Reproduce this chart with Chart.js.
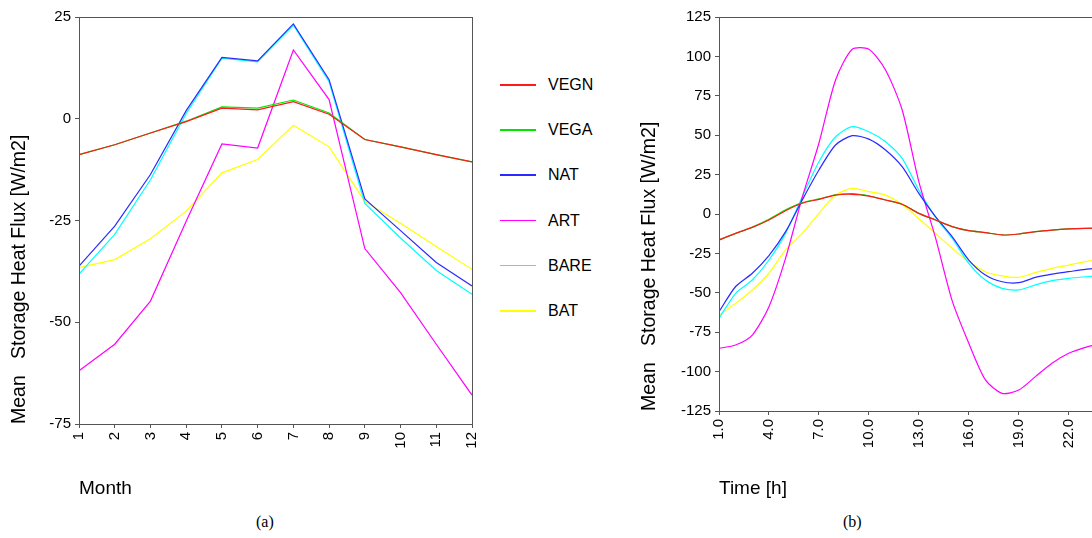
<!DOCTYPE html>
<html>
<head>
<meta charset="utf-8">
<script src="https://cdn.jsdelivr.net/npm/chart.js@4"></script>
<style>
    html, body { margin: 0; padding: 0; background: #fff; overflow: hidden; width: 1092px; height: 538px; }
    canvas { position: absolute; top: 0; }
    #chartA { left: 0; }
    #chartB { left: 630px; }
    .caption { position: absolute; top: 513px; font: 16px "Liberation Serif", "Times New Roman", serif; color: #000; }
    .legend-item { position: absolute; left: 500px; height: 20px; }
    .legend-item .swatch { position: absolute; left: 0; top: 9px; width: 36px; height: 1.5px; }
    .legend-item .text { position: absolute; left: 48px; top: 0; font: 16px "Liberation Sans", Arial, sans-serif; color: #000; line-height: 20px; }
</style>
</head>
<body>
<canvas id="chartA" width="494" height="510"></canvas>
<canvas id="chartB" width="480" height="510"></canvas>
<div id="legend"></div>
<div class="caption" style="left:256px">(a)</div>
<div class="caption" style="left:843px">(b)</div>
<script>
// series names and colours
const seriesNames = ['VEGN', 'VEGA', 'NAT', 'ART', 'BARE', 'BAT'];
const seriesColors = ['#ff1a1a', '#00e600', '#2a2aff', '#ff00ff', '#00ffff', '#ffff00'];

// (a) monthly means
const months = [1, 2, 3, 4, 5, 6, 7, 8, 9, 10, 11, 12];
const monthVEGN = [-8.8, -6.4, -3.5, -0.7, 2.6, 2.2, 4.2, 1.1, -5.1, -6.9, -8.8, -10.6];
const monthVEGA = [-8.8, -6.4, -3.5, -0.6, 2.9, 2.6, 4.6, 1.4, -5.1, -6.9, -8.8, -10.6];
const monthNAT = [-36.2, -26.4, -13.7, 2.0, 15.1, 14.2, 23.3, 9.6, -19.7, -27.5, -35.3, -41.1];
const monthART = [-61.9, -55.4, -44.8, -25.2, -6.2, -7.2, 16.9, 4.7, -31.9, -42.7, -55.4, -67.9];
const monthBARE = [-38.2, -28.4, -15.0, 1.3, 14.9, 14.0, 23.0, 9.1, -20.8, -29.3, -37.3, -43.1];
const monthBAT = [-36.6, -34.6, -29.5, -22.7, -13.3, -10.0, -1.6, -6.9, -20.3, -25.7, -31.4, -37.0];
const monthTicks = [-75, -50, -25, 0, 25];

// (b) diurnal means
const hours = [1, 2, 3, 4, 5, 6, 7, 8, 9, 10, 11, 12, 13, 14, 15, 16, 17, 18, 19, 20, 21, 22, 23, 24];
const hourVEGN = [-16.5, -12.3, -8.5, -3.8, 2.1, 6.8, 9.3, 12.0, 12.5, 11.4, 8.9, 6.2, 0.4, -3.8, -8.0, -10.6, -11.8, -13.3, -12.7, -11.2, -10.2, -9.5, -9.1, -9.0];
const hourVEGA = [-16.5, -12.3, -8.3, -3.4, 2.6, 7.2, 9.6, 12.2, 13.0, 11.6, 8.9, 6.2, 0.4, -3.8, -8.0, -10.6, -11.8, -13.3, -12.7, -11.2, -10.2, -9.5, -9.1, -9.0];
const hourNAT = [-62.0, -46.0, -37.6, -26.4, -11.2, 8.9, 27.9, 43.8, 49.7, 47.5, 40.6, 30.0, 13.1, -1.7, -14.4, -29.2, -38.7, -43.0, -43.6, -40.2, -38.1, -36.6, -35.1, -34.0];
const hourART = [-85.2, -83.1, -76.8, -58.8, -28.0, 10.6, 44.9, 85.0, 104.5, 104.5, 91.4, 66.0, 20.5, -15.0, -55.0, -82.0, -105.3, -113.8, -111.7, -103.2, -94.7, -88.4, -84.6, -82.0];
const hourBARE = [-66.2, -50.3, -41.9, -29.2, -12.3, 11.0, 33.2, 49.0, 55.4, 52.2, 45.9, 35.3, 15.2, -2.0, -15.4, -31.3, -41.9, -47.2, -48.2, -45.0, -42.3, -40.8, -39.8, -39.0];
const hourBAT = [-64.0, -56.7, -48.2, -37.6, -22.8, -12.3, 0.4, 12.0, 16.3, 14.2, 12.0, 6.0, -3.0, -12.3, -21.8, -30.2, -36.6, -39.3, -40.2, -37.2, -34.5, -32.4, -30.2, -29.0];
const hourTicks = [1, 4, 7, 10, 13, 16, 19, 22];
const hourYTicks = [-125, -100, -75, -50, -25, 0, 25, 50, 75, 100, 125];

const monthSeries = [monthVEGN, monthVEGA, monthNAT, monthART, monthBARE, monthBAT];
const hourSeries = [hourVEGN, hourVEGA, hourNAT, hourART, hourBARE, hourBAT];

const tickFont = { family: '"Liberation Sans", Arial, sans-serif', size: 15 };
const xTitleFont = { family: '"Liberation Sans", Arial, sans-serif', size: 19 };
const yTitleFont = { family: '"Liberation Sans", Arial, sans-serif', size: 19.5 };
const axisColor = '#555';

// frame round the plot area
const framePlugin = {
    id: 'frame',
    afterDraw(chart) {
        const { ctx, chartArea: a } = chart;
        ctx.save();
        ctx.strokeStyle = axisColor;
        ctx.lineWidth = 1;
        ctx.strokeRect(Math.round(a.left) + 0.5, Math.round(a.top) + 0.5, Math.round(a.right - a.left), Math.round(a.bottom - a.top));
        ctx.restore();
    }
};

function makeDatasets(xs, series, tension) {
    return series.map((vals, i) => ({
        label: seriesNames[i],
        data: vals.map((v, k) => ({ x: xs[k], y: v })),
        borderColor: seriesColors[i],
        borderWidth: 1.2,
        pointRadius: 0,
        tension: tension,
        fill: false
    }));
}

function makeChart(canvasId, cfg) {
    return new Chart(document.getElementById(canvasId), {
        type: 'line',
        data: { datasets: makeDatasets(cfg.xs, cfg.series, cfg.tension) },
        options: {
            responsive: false,
            devicePixelRatio: 1,
            animation: false,
            layout: { padding: { top: 17, right: cfg.rightPad, left: 0, bottom: 0 } },
            plugins: { legend: { display: false }, tooltip: { enabled: false } },
            scales: {
                x: {
                    type: 'linear',
                    min: cfg.xMin,
                    max: cfg.xMax,
                    afterBuildTicks: s => { s.ticks = cfg.xTicks.map(v => ({ value: v })); },
                    afterFit: s => { s.height = cfg.xHeight; },
                    grid: { display: true, drawOnChartArea: false, tickLength: 4, color: axisColor },
                    border: { display: true, color: axisColor },
                    ticks: {
                        color: '#000', font: tickFont, padding: 4, autoSkip: false,
                        minRotation: 90, maxRotation: 90,
                        callback: cfg.xLabel
                    },
                    title: {
                        display: true, text: cfg.xTitle, align: 'start', color: '#000',
                        font: xTitleFont, padding: { top: 0, bottom: 10 }
                    }
                },
                y: {
                    min: cfg.yTicks[0],
                    max: cfg.yTicks[cfg.yTicks.length - 1],
                    afterBuildTicks: s => { s.ticks = cfg.yTicks.map(v => ({ value: v })); },
                    afterFit: s => { s.width = cfg.yWidth; },
                    grid: { display: true, drawOnChartArea: false, tickLength: 4, color: axisColor },
                    border: { display: true, color: axisColor },
                    ticks: { color: '#000', font: tickFont, padding: 4 },
                    title: {
                        display: true, text: 'Mean   Storage Heat Flux [W/m2]', align: 'start', color: '#000',
                        font: yTitleFont, padding: { top: 8, bottom: 0 }
                    }
                }
            }
        },
        plugins: [framePlugin]
    });
}

makeChart('chartA', {
    xs: months, series: monthSeries, tension: 0,
    xMin: 1, xMax: 12, xTicks: months, xLabel: v => String(v), xTitle: 'Month',
    yTicks: monthTicks, yWidth: 79, xHeight: 86, rightPad: 9
});

makeChart('chartB', {
    xs: hours, series: hourSeries, tension: 0.25,
    xMin: 1, xMax: 24, xTicks: hourTicks, xLabel: v => Number(v).toFixed(1), xTitle: 'Time [h]',
    yTicks: hourYTicks, yWidth: 89, xHeight: 99, rightPad: 8
});

// legend between the panels
const legend = document.getElementById('legend');
seriesNames.forEach((name, i) => {
    const item = document.createElement('div');
    item.className = 'legend-item';
    item.style.top = (75 + i * 45.2) + 'px';
    item.innerHTML = '<div class="swatch" style="background:' + seriesColors[i] + '"></div><div class="text">' + name + '</div>';
    legend.appendChild(item);
});
</script>
</body>
</html>
